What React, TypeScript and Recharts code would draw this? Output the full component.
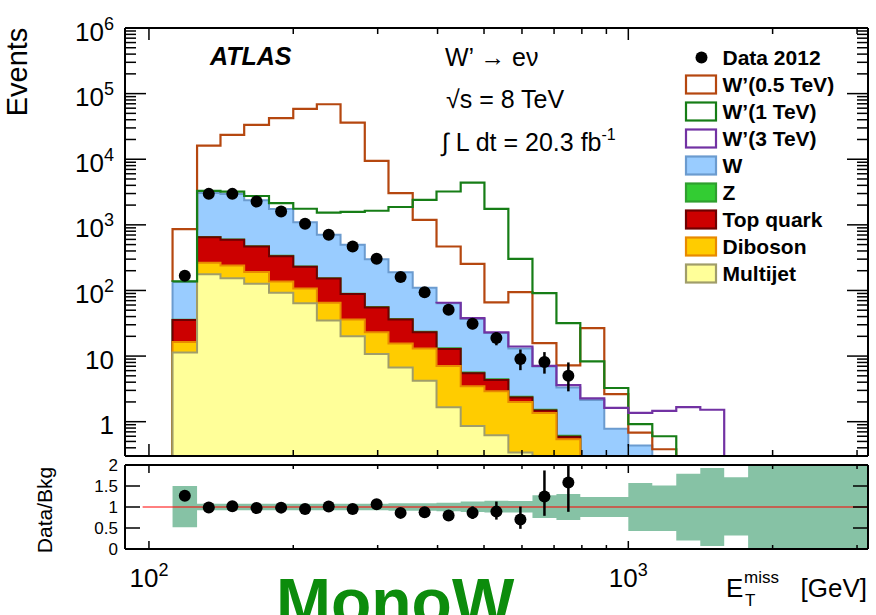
import React from "react";
import {
  Area,
  ComposedChart,
  ErrorBar,
  Line,
  ReferenceLine,
  Scatter,
  XAxis,
  YAxis,
} from "recharts";

// ---- layout (px) ----
const WIDTH = 876;
const HEIGHT = 615;
const PLOT_LEFT = 125;
const PLOT_RIGHT = 868;
const MAIN_TOP = 28;
const MAIN_BOTTOM = 456;
const RATIO_TOP = 465;
const RATIO_BOTTOM = 549;
const AXIS_X_H = 8; // axis band sizes (must be > 0 or recharts skips the axis)
const AXIS_Y_W = 8;
const FONT = "'Liberation Sans', Arial, Helvetica, sans-serif";

// ---- axes ----
const X_MIN = 89.13;
const X_MAX = 3162.3;
const Y_MIN = 0.3;
const Y_MAX = 1e6;
const FLOOR = 0.1; // below the frame: outlines run out of the plot and get clipped
const X_MAJOR = [100, 1000];
const X_MINOR = [200, 300, 400, 500, 600, 700, 800, 900, 2000, 3000];
const X_TICKS = [...X_MAJOR, ...X_MINOR].sort((a, b) => a - b);
const Y_MAJOR = [1, 10, 100, 1000, 10000, 100000, 1000000];
const Y_MINOR_STEPS = [2, 3, 4, 5, 6, 7, 8, 9];
const Y_TICKS = [0.1, ...Y_MAJOR.slice(0, -1)]
  .flatMap((d) => Y_MINOR_STEPS.map((m) => +(d * m).toPrecision(3)))
  .filter((v) => v > Y_MIN + 0.01)
  .concat(Y_MAJOR)
  .sort((a, b) => a - b);
const RATIO_TICKS = [0, 0.5, 1, 1.5, 2];
const RATIO_LABELS = ["0", "0.5", "1", "1.5", "2"];
const RATIO_LINE_START = 97;

// ---- E_T^miss bin edges (GeV) ----
const EDGES = [
  112, 126, 141, 158, 178, 200, 224, 251, 282, 316, 355, 398, 447, 501, 562, 631,
  708, 794, 891, 1000, 1122, 1259, 1413, 1585, 1778, 1995, 2239, 2512, 2818, 3162,
];

// ---- backgrounds, events per bin (bins 0..19) ----
const W_BKG = [100, 2395, 2360, 1905, 1411, 866, 551, 406, 244, 153, 86.5, 51, 31, 18, 10.6, 5.4, 2.7, 1.9, 0.66, 0.37];
const Z_BKG = [0.3, 4, 6, 5, 4, 3, 2, 1.3, 0.9, 0.6, 0.4, 0.25, 0.15, 0.1, 0.06, 0.04, 0.02, 0.01, 0.01, 0.005];
const TOP_BKG = [19, 385, 352, 277, 196, 122, 87, 52, 32, 20.5, 10.1, 5.8, 2.0, 1.4, 0.34, 0.12, 0.05, 0.04, 0.01, 0.01];
const DIBOSON_BKG = [5.1, 88, 86, 64, 45, 43, 30, 16, 12.2, 8.8, 8.8, 5.4, 2.6, 2.3, 1.66, 1.16, 0.44, 0.15, 0.08, 0.04];
const MULTIJET_BKG = [11.3, 176, 154, 127, 92, 64, 35, 20, 10.8, 6.7, 4.2, 1.66, 0.86, 0.62, 0.34, 0.2, 0.1, 0.05, 0.02, 0.01];

// ---- signal + background outlines ----
const WP05 = [860, 16100, 23500, 33300, 42200, 58400, 68800, 36200, 9440, 3040, 1190, 468, 255, 66, 94, 15.8, 7.2, 26.7, 2.64, 0.68, 0.38];
const WP1 = [138, 3290, 3200, 2750, 2150, 1760, 1540, 1580, 1640, 1870, 2400, 3220, 4410, 1750, 304, 91, 31.7, 8.3, 3.26, 0.92, 0.6];
const WP3_START = 11;
const WP3 = [65, 38, 23, 14, 7.1, 3.6, 2.27, 1.62, 1.36, 1.46, 1.67, 1.52];

// ---- data ----
const DATA = [167, 2965, 2965, 2265, 1595, 1035, 705, 468, 304, 160, 94, 50.8, 31.1, 18.8, 9.0, 8.1, 5.0];
const DATA_ERR_LO = [0, 0, 0, 0, 0, 0, 0, 0, 0, 0, 0, 0, 5.4, 4.2, 2.9, 2.7, 2.1];
const DATA_ERR_HI = [0, 0, 0, 0, 0, 0, 0, 0, 0, 0, 0, 0, 5.8, 4.5, 3.6, 3.4, 3.0];

// ---- ratio panel ----
const RATIO = [1.27, 0.99, 1.02, 0.975, 0.985, 0.95, 1.01, 0.95, 1.065, 0.86, 0.875, 0.8, 0.865, 0.89, 0.7, 1.25, 1.585];
const RATIO_ERR_LO = [0, 0, 0, 0, 0, 0, 0, 0, 0, 0, 0, 0, 0.15, 0.19, 0.22, 0.46, 0.7];
const RATIO_ERR_HI = [0, 0, 0, 0, 0, 0, 0, 0, 0, 0, 0, 0, 0.15, 0.24, 0.31, 0.62, 0.415];
const BAND_LO = [0.52, 0.92, 0.92, 0.92, 0.92, 0.92, 0.92, 0.92, 0.92, 0.91, 0.91, 0.9, 0.88, 0.87, 0.87, 0.74, 0.69, 0.76, 0.76, 0.43, 0.43, 0.2, 0.07, 0.32, -0.1, -0.1, -0.1, -0.1, -0.1];
const BAND_HI = [1.5, 1.08, 1.08, 1.08, 1.08, 1.08, 1.08, 1.08, 1.08, 1.09, 1.09, 1.1, 1.13, 1.15, 1.14, 1.28, 1.31, 1.24, 1.24, 1.57, 1.51, 1.79, 1.93, 1.71, 2.1, 2.1, 2.1, 2.1, 2.1];

// ---- colours ----
const C_WP05 = "#b5470f";
const C_WP1 = "#167d16";
const C_WP3 = "#7232a3";
const C_BAND = "#86c2a5";

// stack, top layer first (painted first, lower layers cover it)
const LAYERS = [
  { name: "W", values: W_BKG, fill: "#99ccff", stroke: "#6b9bcf" },
  { name: "Z", values: Z_BKG, fill: "#33cc33", stroke: "#2f9f2f" },
  { name: "Top quark", values: TOP_BKG, fill: "#cc0000", stroke: "#6e0000" },
  { name: "Diboson", values: DIBOSON_BKG, fill: "#ffcc00", stroke: "#e88a00" },
  { name: "Multijet", values: MULTIJET_BKG, fill: "#ffff99", stroke: "#a09d6a" },
];

const SIGNALS = [
  { name: "W’(0.5 TeV)", values: WP05, start: 0, color: C_WP05 },
  { name: "W’(1 TeV)", values: WP1, start: 0, color: C_WP1 },
  { name: "W’(3 TeV)", values: WP3, start: WP3_START, color: C_WP3 },
];

type Pt = { x: number; y: number };

// step outline of a histogram, closed down at both ends
function histPoints(values: number[], start: number, lowStart: number, lowEnd: number): Pt[] {
  const pts: Pt[] = [{ x: EDGES[start], y: lowStart }];
  values.forEach((v, i) => pts.push({ x: EDGES[start + i], y: v }));
  const end = start + values.length;
  pts.push({ x: EDGES[end], y: values[values.length - 1] });
  pts.push({ x: EDGES[end], y: lowEnd });
  return pts;
}

const stacked = LAYERS.map((layer, k) => ({
  ...layer,
  points: histPoints(
    layer.values.map((_, i) => LAYERS.slice(k).reduce((s, l) => s + l.values[i], 0)),
    0,
    FLOOR,
    FLOOR
  ),
}));
const bkgTotal = (i: number) => LAYERS.reduce((s, l) => s + (l.values[i] ?? 0), 0);

const center = (i: number) => Math.sqrt(EDGES[i] * EDGES[i + 1]);
const dataPoints = DATA.map((v, i) => ({ x: center(i), y: v, err: [DATA_ERR_LO[i], DATA_ERR_HI[i]] }));
const ratioPoints = RATIO.map((v, i) => ({ x: center(i), y: v, err: [RATIO_ERR_LO[i], RATIO_ERR_HI[i]] }));
const bandRows = BAND_LO.map((lo, i) => ({ x: EDGES[i], band: [lo, BAND_HI[i]] }));
bandRows.push({ x: EDGES[BAND_LO.length], band: bandRows[bandRows.length - 1].band });

const frame = { stroke: "#000", strokeWidth: 2 };

function MainXTick(props: any) {
  const { x, payload } = props;
  const len = X_MAJOR.includes(payload.value) ? 12 : 6;
  return (
    <g>
      <line x1={x} x2={x} y1={MAIN_BOTTOM} y2={MAIN_BOTTOM - len} stroke="#000" strokeWidth={1.5} />
      <line x1={x} x2={x} y1={MAIN_TOP} y2={MAIN_TOP + len} stroke="#000" strokeWidth={1.5} />
    </g>
  );
}

function MainYTick(props: any) {
  const { y, payload } = props;
  const v = payload.value;
  const major = Y_MAJOR.includes(v);
  const len = major ? 21 : 11;
  const exp = Math.round(Math.log10(v));
  return (
    <g>
      <line x1={PLOT_LEFT} x2={PLOT_LEFT + len} y1={y} y2={y} stroke="#000" strokeWidth={1.5} />
      <line x1={PLOT_RIGHT} x2={PLOT_RIGHT - len} y1={y} y2={y} stroke="#000" strokeWidth={1.5} />
      {major && (
        <text x={114} y={y + 12.5} textAnchor="end" fontFamily={FONT} fontSize={26} fill="#000">
          {exp < 2 ? (
            String(v)
          ) : (
            <>
              10<tspan dy={-11} fontSize={18}>{exp}</tspan>
            </>
          )}
        </text>
      )}
    </g>
  );
}

function RatioXTick(props: any) {
  const { x, payload } = props;
  const major = X_MAJOR.includes(payload.value);
  const len = major ? 8 : 4;
  const exp = Math.round(Math.log10(payload.value));
  return (
    <g>
      <line x1={x} x2={x} y1={RATIO_BOTTOM} y2={RATIO_BOTTOM - len} stroke="#000" strokeWidth={1.5} />
      <line x1={x} x2={x} y1={RATIO_TOP} y2={RATIO_TOP + len} stroke="#000" strokeWidth={1.5} />
      {major && (
        <text x={x} y={587} textAnchor="middle" fontFamily={FONT} fontSize={26} fill="#000">
          10<tspan dy={-11} fontSize={18}>{exp}</tspan>
        </text>
      )}
    </g>
  );
}

function RatioYTick(props: any) {
  const { y, payload } = props;
  const idx = RATIO_TICKS.indexOf(payload.value);
  return (
    <g>
      <line x1={PLOT_LEFT} x2={PLOT_LEFT + 15} y1={y} y2={y} stroke="#000" strokeWidth={1.5} />
      <line x1={PLOT_RIGHT} x2={PLOT_RIGHT - 15} y1={y} y2={y} stroke="#000" strokeWidth={1.5} />
      <text x={118} y={y + 6} textAnchor="end" fontFamily={FONT} fontSize={17} fill="#000">
        {RATIO_LABELS[idx]}
      </text>
    </g>
  );
}

const DataDot = (p: any) => <circle cx={p.cx} cy={p.cy} r={6} fill="#000" />;

function panelMargin(top: number, bottom: number) {
  return {
    top: top - AXIS_X_H,
    right: WIDTH - PLOT_RIGHT - AXIS_Y_W,
    bottom: HEIGHT - bottom - AXIS_X_H,
    left: PLOT_LEFT - AXIS_Y_W,
  };
}

function MainPanel() {
  return (
    <ComposedChart width={WIDTH} height={HEIGHT} margin={panelMargin(MAIN_TOP, MAIN_BOTTOM)}>
      <XAxis xAxisId="b" dataKey="x" type="number" scale="log" domain={[X_MIN, X_MAX]} allowDataOverflow
        ticks={X_TICKS} interval={0} height={AXIS_X_H} tickLine={false} tick={MainXTick} axisLine={frame} />
      <XAxis xAxisId="t" orientation="top" dataKey="x" type="number" scale="log" domain={[X_MIN, X_MAX]}
        allowDataOverflow height={AXIS_X_H} tick={false} tickLine={false} axisLine={frame} />
      <YAxis yAxisId="l" dataKey="y" type="number" scale="log" domain={[Y_MIN, Y_MAX]} allowDataOverflow
        ticks={Y_TICKS} interval={0} width={AXIS_Y_W} tickLine={false} tick={MainYTick} axisLine={frame} />
      <YAxis yAxisId="r" orientation="right" dataKey="y" type="number" scale="log" domain={[Y_MIN, Y_MAX]}
        allowDataOverflow width={AXIS_Y_W} tick={false} tickLine={false} axisLine={frame} />
      {stacked.map((l) => (
        <Area key={l.name} xAxisId="b" yAxisId="l" data={l.points} dataKey="y" type="stepAfter"
          baseValue={FLOOR} fill={l.fill} fillOpacity={1} stroke={l.stroke} strokeWidth={2}
          dot={false} activeDot={false} isAnimationActive={false} />
      ))}
      {SIGNALS.map((s) => (
        <Line key={s.name} xAxisId="b" yAxisId="l" data={histPoints(s.values, s.start, bkgTotal(s.start), FLOOR)}
          dataKey="y" type="stepAfter" stroke={s.color} strokeWidth={2.2} dot={false} activeDot={false}
          isAnimationActive={false} />
      ))}
      <Scatter xAxisId="b" yAxisId="l" data={dataPoints} dataKey="y" shape={DataDot} isAnimationActive={false}>
        <ErrorBar dataKey="err" direction="y" width={0} strokeWidth={2.5} stroke="#000" isAnimationActive={false} />
      </Scatter>
    </ComposedChart>
  );
}

function RatioPanel() {
  return (
    <ComposedChart width={WIDTH} height={HEIGHT} margin={panelMargin(RATIO_TOP, RATIO_BOTTOM)}>
      <XAxis xAxisId="b" dataKey="x" type="number" scale="log" domain={[X_MIN, X_MAX]} allowDataOverflow
        ticks={X_TICKS} interval={0} height={AXIS_X_H} tickLine={false} tick={RatioXTick} axisLine={frame} />
      <XAxis xAxisId="t" orientation="top" dataKey="x" type="number" scale="log" domain={[X_MIN, X_MAX]}
        allowDataOverflow height={AXIS_X_H} tick={false} tickLine={false} axisLine={frame} />
      <YAxis yAxisId="l" dataKey="y" type="number" domain={[0, 2]} allowDataOverflow ticks={RATIO_TICKS}
        interval={0} width={AXIS_Y_W} tickLine={false} tick={RatioYTick} axisLine={frame} />
      <YAxis yAxisId="r" orientation="right" dataKey="y" type="number" domain={[0, 2]} allowDataOverflow
        width={AXIS_Y_W} tick={false} tickLine={false} axisLine={frame} />
      <Area xAxisId="b" yAxisId="l" data={bandRows} dataKey="band" type="stepAfter" fill={C_BAND}
        fillOpacity={1} stroke="none" dot={false} activeDot={false} isAnimationActive={false} />
      <ReferenceLine xAxisId="b" yAxisId="l" segment={[{ x: RATIO_LINE_START, y: 1 }, { x: X_MAX, y: 1 }]}
        stroke="#ff0000" strokeWidth={1} />
      <Scatter xAxisId="b" yAxisId="l" data={ratioPoints} dataKey="y" shape={DataDot} isAnimationActive={false}>
        <ErrorBar dataKey="err" direction="y" width={0} strokeWidth={2.5} stroke="#000" isAnimationActive={false} />
      </Scatter>
    </ComposedChart>
  );
}

const LEGEND = [
  { label: "Data 2012", kind: "dot", fill: "#000", stroke: "#000" },
  ...SIGNALS.map((s) => ({ label: s.name, kind: "box", fill: "#fff", stroke: s.color })),
  ...LAYERS.map((l) => ({ label: l.name, kind: "box", fill: l.fill, stroke: l.stroke })),
];

function Overlay() {
  const txt = { fontFamily: FONT, fill: "#000" };
  return (
    <svg width={WIDTH} height={HEIGHT} style={{ position: "absolute", left: 0, top: 0, pointerEvents: "none" }}>
      <text {...txt} fontSize={29} textAnchor="middle" transform="translate(27,72) rotate(-90)">Events</text>
      <text {...txt} fontSize={21} textAnchor="middle" transform="translate(52,510) rotate(-90)">Data/Bkg</text>

      <text {...txt} x={210} y={65} fontSize={25} fontWeight="bold" fontStyle="italic">ATLAS</text>
      <text {...txt} x={445} y={66} fontSize={25}>W’ → eν</text>
      <text {...txt} x={446} y={108} fontSize={25}>√s = 8 TeV</text>
      <text {...txt} x={442} y={151} fontSize={25}>
        ∫ L dt = 20.3 fb<tspan dy={-11} fontSize={16}>-1</tspan>
      </text>

      {LEGEND.map((e, i) => {
        const cy = 57.5 + 27 * i;
        return (
          <g key={e.label}>
            {e.kind === "dot" ? (
              <circle cx={701.5} cy={cy} r={6} fill="#000" />
            ) : (
              <rect x={686} y={cy - 9} width={30} height={18} fill={e.fill} stroke={e.stroke} strokeWidth={2.2} />
            )}
            <text {...txt} x={722.5} y={cy + 7.5} fontSize={21} fontWeight="bold">{e.label}</text>
          </g>
        );
      })}

      <text {...txt} x={726} y={597} fontSize={26}>E</text>
      <text {...txt} x={744} y={583} fontSize={17}>miss</text>
      <text {...txt} x={745} y={606} fontSize={17}>T</text>
      <text {...txt} x={867} y={597} fontSize={26} textAnchor="end">[GeV]</text>

      <text x={276} y={625} fontFamily={FONT} fontSize={66} fontWeight="bold" fill="#0c8c0c">MonoW</text>
    </svg>
  );
}

export default function App() {
  return (
    <div style={{ position: "absolute", left: 0, top: 0, width: WIDTH, height: HEIGHT, overflow: "hidden", background: "#fff" }}>
      <div style={{ position: "absolute", left: 0, top: 0 }}>
        <MainPanel />
      </div>
      <div style={{ position: "absolute", left: 0, top: 0 }}>
        <RatioPanel />
      </div>
      <Overlay />
    </div>
  );
}
